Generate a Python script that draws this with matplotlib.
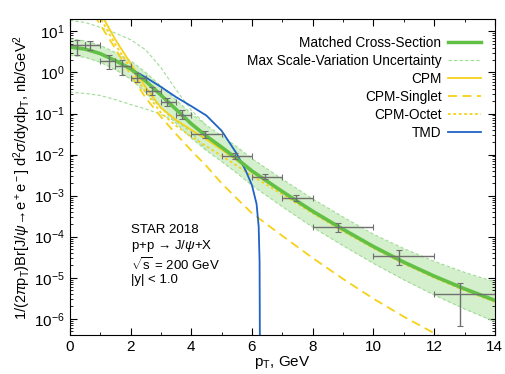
import numpy as np
import matplotlib
matplotlib.use("Agg")
import matplotlib.pyplot as plt

plt.rcParams['font.family'] = ['Liberation Sans', 'DejaVu Sans']
plt.rcParams['mathtext.fontset'] = 'custom'
plt.rcParams['mathtext.rm'] = 'Liberation Sans'
plt.rcParams['mathtext.it'] = 'Liberation Sans:italic'

# STAR 2018 data (pT bin centres, bin edges, value and error range)
pt_data = [0.22, 0.66, 1.3, 1.72, 2.2, 2.71, 3.21, 3.7, 4.45, 5.44, 6.44, 7.44, 8.84, 10.85, 12.85]
pt_lo = [0, 0.5, 1.0, 1.5, 2.0, 2.5, 3.0, 3.5, 4, 5, 6, 7, 8, 10, 12]
pt_hi = [0.5, 1.0, 1.5, 2.0, 2.5, 3.0, 3.5, 4.0, 5, 6, 7, 8, 10, 12, 14]
y_data = [4.6, 4.6, 1.9, 1.4, 0.75, 0.36, 0.19, 0.093, 0.031, 0.0093, 0.0029, 8.8e-4, 1.7e-4, 3.4e-5, 4.0e-6]
y_low = [2.7, 3.6, 1.2, 0.85, 0.6, 0.28, 0.15, 0.072, 0.026, 0.008, 0.0025, 7.3e-4, 1.3e-4, 2.0e-5, 6.6e-7]
y_high = [6.3, 5.8, 2.6, 2.0, 0.95, 0.45, 0.24, 0.12, 0.037, 0.011, 0.0034, 1.05e-3, 2.2e-4, 4.8e-5, 7.5e-6]

# matched cross-section and scale band (log10 values)
pt_grid = [0, 0.5, 1, 1.5, 2, 2.5, 3, 3.5, 4, 4.5, 5, 5.5, 6, 7, 8, 9, 10, 11, 12, 13, 14]
matched_log = [0.62, 0.57, 0.46, 0.29, 0.09, -0.21, -0.55, -0.90, -1.25, -1.55, -1.82, -2.10, -2.40,
               -2.90, -3.38, -3.82, -4.24, -4.62, -4.96, -5.27, -5.55]
band_up_log = [0.82, 0.77, 0.66, 0.49, 0.29, 0.00, -0.33, -0.67, -1.00, -1.29, -1.54, -1.81, -2.10,
               -2.60, -3.08, -3.52, -3.94, -4.29, -4.60, -4.87, -5.10]
band_lo_log = [0.42, 0.37, 0.25, 0.07, -0.16, -0.49, -0.86, -1.24, -1.60, -1.90, -2.17, -2.45, -2.75,
               -3.27, -3.77, -4.22, -4.65, -5.05, -5.42, -5.76, -6.07]

# max scale-variation curves at low pT
pt_var = [0, 0.5, 1, 1.5, 2, 2.5, 3, 3.5, 4, 4.5]
var_up_log = [1.27, 1.22, 1.10, 0.96, 0.80, 0.55, 0.12, -0.42, -0.92, -1.29]
var_lo_log = [-0.48, -0.51, -0.56, -0.66, -0.78, -0.89, -1.02, -1.19, -1.45, -1.90]

# CPM curves
pt_cpm = [1.05, 1.5, 2, 2.5, 3, 3.5, 4, 4.5, 5, 5.5, 6, 7, 8, 9, 10, 11, 12, 13, 14]
cpm_log = [1.40, 0.80, 0.22, -0.36, -0.86, -1.16, -1.40, -1.63, -1.88, -2.14, -2.43,
           -2.92, -3.40, -3.84, -4.26, -4.64, -4.98, -5.29, -5.57]
pt_oct = [0.95, 1.5, 2, 2.5, 3, 3.5, 4, 4.5, 5, 5.5, 6, 7, 8, 9, 10, 11, 12, 13, 14]
octet_log = [1.40, 0.68, 0.10, -0.48, -0.98, -1.30, -1.56, -1.80, -2.03, -2.27, -2.52,
             -2.97, -3.43, -3.87, -4.28, -4.66, -5.00, -5.31, -5.59]
pt_sing = [0.8, 1.5, 2, 2.5, 3, 3.5, 4, 4.5, 5, 5.5, 6, 7, 8, 9, 10, 11, 12, 12.5]
singlet_log = [1.40, 0.58, -0.05, -0.62, -1.08, -1.50, -1.90, -2.28, -2.70, -3.07, -3.43,
               -3.98, -4.52, -5.03, -5.51, -5.95, -6.35, -6.55]

# TMD curve
pt_tmd = [0, 0.5, 1, 1.5, 2, 2.5, 3, 3.5, 4, 4.5, 5, 5.5, 5.8, 6.0, 6.15, 6.22, 6.25, 6.262]
tmd_log = [0.62, 0.57, 0.46, 0.29, 0.09, -0.12, -0.35, -0.60, -0.82, -1.05, -1.42, -1.98,
           -2.40, -2.75, -3.20, -3.75, -4.60, -7.0]

green = '#62c046'
band_fill = '#d3efcc'
band_edge = '#9fdc95'
yellow = '#f7d117'
blue = '#1f63c6'

fig, ax = plt.subplots(figsize=(5.06, 3.74), dpi=100)
fig.subplots_adjust(left=0.138, right=0.978, top=0.949, bottom=0.104)

ax.fill_between(pt_grid, 10**np.array(band_lo_log), 10**np.array(band_up_log),
                color=band_fill, lw=0)
ax.plot(pt_grid, 10**np.array(band_up_log), color=band_edge, lw=0.8, ls=(0, (3, 2)))
ax.plot(pt_grid, 10**np.array(band_lo_log), color=band_edge, lw=0.8, ls=(0, (3, 2)))
ax.plot(pt_var, 10**np.array(var_up_log), color=band_edge, lw=0.8, ls=(0, (3, 2)))
ax.plot(pt_var, 10**np.array(var_lo_log), color=band_edge, lw=0.8, ls=(0, (3, 2)))

ax.plot(pt_sing, 10**np.array(singlet_log), color=yellow, lw=1.3, ls=(0, (5, 3)))
ax.plot(pt_oct, 10**np.array(octet_log), color=yellow, lw=1.3, ls=(0, (1.5, 1.5)))
ax.plot(pt_cpm, 10**np.array(cpm_log), color=yellow, lw=1.3)
ax.plot(pt_tmd, 10**np.array(tmd_log), color=blue, lw=1.3)
ax.plot(pt_grid, 10**np.array(matched_log), color=green, lw=2.6)

y_data = np.array(y_data)
yerr = [y_data - np.array(y_low), np.array(y_high) - y_data]
xerr = [np.array(pt_data) - np.array(pt_lo), np.array(pt_hi) - np.array(pt_data)]
ax.errorbar(pt_data, y_data, xerr=xerr, yerr=yerr, fmt='none', ecolor='#707070',
            elinewidth=1.0, capsize=2, capthick=0.8)

ax.set_yscale('log')
ax.set_xlim(0, 14)
ax.set_ylim(4e-7, 20)
ax.set_xticks([0, 2, 4, 6, 8, 10, 12, 14])
ax.set_xticks(range(15), minor=True)
ax.tick_params(which='both', direction='in', top=True, right=True, labelsize=11)
ax.tick_params(which='major', length=5)
ax.tick_params(which='minor', length=2.5)
ax.set_yticks([1e1, 1e0, 1e-1, 1e-2, 1e-3, 1e-4, 1e-5, 1e-6])

ax.set_xlabel(r'p$_\mathrm{T}$, GeV', fontsize=11, labelpad=0)
ax.set_ylabel(r'1/(2$\pi$p$_\mathrm{T}$)Br[J/$\psi$→e$^+$e$^-$] d$^2\sigma$/dydp$_\mathrm{T}$, nb/GeV$^2$',
              fontsize=10.5, labelpad=1)

handles = [
    plt.Line2D([], [], color=green, lw=2.5),
    plt.Line2D([], [], color=band_edge, lw=0.8, ls=(0, (3, 2))),
    plt.Line2D([], [], color=yellow, lw=1.3),
    plt.Line2D([], [], color=yellow, lw=1.3, ls=(0, (5, 3))),
    plt.Line2D([], [], color=yellow, lw=1.3, ls=(0, (1.5, 1.5))),
    plt.Line2D([], [], color=blue, lw=1.3),
]
labels = ['Matched Cross-Section', 'Max Scale-Variation Uncertainty', 'CPM',
          'CPM-Singlet', 'CPM-Octet', 'TMD']
ax.legend(handles, labels, loc='upper right', frameon=False, markerfirst=False,
          fontsize=9.8, handlelength=2.4, handletextpad=0.5, labelspacing=0.3,
          borderaxespad=0.0, bbox_to_anchor=(0.98, 0.965))

ax.text(0.143, 0.35, 'STAR 2018\np+p → J/$\\psi$+X\n$\\sqrt{\\mathrm{s}}$ = 200 GeV\n|y| < 1.0',
        transform=ax.transAxes, fontsize=9.5, va='top', linespacing=1.15)

fig.savefig('out.png', dpi=100)
